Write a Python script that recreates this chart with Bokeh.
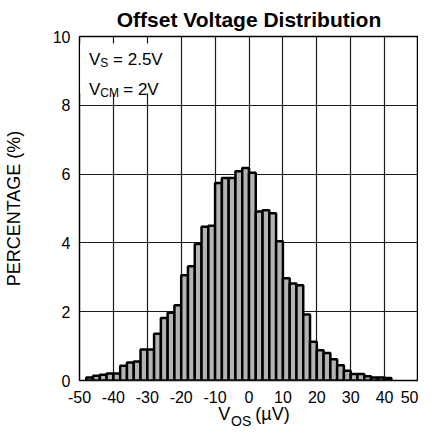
from bokeh.plotting import figure
from bokeh.models import ColumnDataSource, Label, BoxAnnotation, FixedTicker, LinearAxis
from bokeh.embed import file_html
from bokeh.resources import INLINE

# ---- data ----
bin_start = [-48, -46, -44, -42, -40, -38, -36, -34, -32, -30, -28, -26,
             -24, -22, -20, -18, -16, -14, -12, -10, -8, -6, -4, -2,
             0, 2, 4, 6, 8, 10, 12, 14, 16, 18, 20, 22, 24, 26, 28, 30,
             32, 34, 36, 38, 40]
percentage = [0.09, 0.14, 0.17, 0.20, 0.20, 0.43, 0.52, 0.55, 0.90, 0.90, 1.36, 1.82,
              1.97, 2.19, 3.06, 3.32, 3.97, 4.47, 4.50, 5.74, 5.89, 5.89, 6.08, 6.18,
              6.04, 4.91, 4.95, 4.86, 4.05, 2.97, 2.82, 2.77, 1.92, 1.13, 0.88, 0.80,
              0.62, 0.44, 0.28, 0.19, 0.19, 0.12, 0.09, 0.09, 0.07]
bin_width = 2
x_ticks = [-50, -40, -30, -20, -10, 0, 10, 20, 30, 40, 50]
x_tick_labels = ["-50", "-40", "-30", "-20", "-10", "0", "10", "20", "30", "40", "50"]
y_ticks = [0, 2, 4, 6, 8, 10]

FONT = "Liberation Sans"
NB = "\u00a0"

src = ColumnDataSource(dict(
    left=bin_start,
    right=[s + bin_width for s in bin_start],
    top=percentage,
))

p = figure(width=418, height=431, x_range=(-50, 50), y_range=(0, 10),
           output_backend="svg", toolbar_location=None,
           min_border_left=73, min_border_right=0, min_border_top=30,
           min_border_bottom=50, title="Offset Voltage Distribution")

p.title.text_font = FONT
p.title.text_font_size = "21px"
p.title.text_font_style = "bold"
p.title.align = "center"
p.title.text_color = "black"
p.title.standoff = 11

p.background_fill_color = "white"
p.border_fill_color = "white"
p.outline_line_color = "black"
p.outline_line_width = 1.5
p.outline_line_alpha = 1.0

p.xaxis.ticker = FixedTicker(ticks=x_ticks)
p.xaxis.major_label_overrides = {t: s for t, s in zip(x_ticks, x_tick_labels)}
p.yaxis.ticker = FixedTicker(ticks=y_ticks)
p.xgrid.ticker = FixedTicker(ticks=x_ticks)
p.ygrid.ticker = FixedTicker(ticks=y_ticks)
for g in (p.xgrid, p.ygrid):
    g.grid_line_color = "#1a1a1a"
    g.grid_line_width = 1.2
    g.grid_line_alpha = 1.0

for ax in (p.xaxis, p.yaxis):
    ax.axis_line_color = None
    ax.major_tick_in = 0
    ax.major_tick_out = 0
    ax.minor_tick_line_color = None
    ax.major_label_text_font = FONT
    ax.major_label_text_font_size = "16px"
    ax.major_label_text_color = "black"
    ax.axis_label_text_font = FONT
    ax.axis_label_text_font_style = "normal"
    ax.axis_label_text_color = "black"

p.xaxis.major_label_standoff = 10
p.yaxis.major_label_standoff = 9

p.yaxis.axis_label = "PERCENTAGE (%)"
p.yaxis.axis_label_text_font_size = "18px"
p.yaxis.axis_label_standoff = 26

# x axis title "V_OS (µV)": main part on the axis, subscript on a label-only axis
p.xaxis.axis_label = NB * 2 + "V" + NB * 5 + "(\u00b5V)"
p.xaxis.axis_label_text_font_size = "18px"
p.xaxis.axis_label_standoff = -2

sub_axis = LinearAxis(ticker=FixedTicker(ticks=[]),
                      axis_line_color=None, major_tick_line_color=None,
                      minor_tick_line_color=None, major_tick_in=0, major_tick_out=0,
                      major_label_text_font_size="0px", major_label_standoff=0,
                      axis_label="OS" + NB * 4, axis_label_text_font=FONT,
                      axis_label_text_font_size="14px",
                      axis_label_text_font_style="normal",
                      axis_label_text_color="black",
                      axis_label_standoff=-14)
p.add_layout(sub_axis, "below")

p.quad(left="left", right="right", top="top", bottom=0, source=src,
       fill_color="#b3b3b3", line_color="black", line_width=2.5)

# white background behind the condition text
p.add_layout(BoxAnnotation(left=-49.8, right=-22, bottom=8.35, top=9.8,
                           fill_color="white", fill_alpha=1.0, line_color=None))

def lab(x, y, text, size):
    return Label(x=x, y=y, text=text,
                 text_font=FONT, text_font_size=size, text_color="black",
                 text_align="left", text_baseline="alphabetic")

# condition text
p.add_layout(lab(-47.17, 9.32, "V", "17px"))
p.add_layout(lab(-43.88, 9.23, "S", "12px"))
p.add_layout(lab(-40.1, 9.32, "= 2.5V", "17px"))
p.add_layout(lab(-47.17, 8.45, "V", "17px"))
p.add_layout(lab(-43.88, 8.36, "CM", "12px"))
p.add_layout(lab(-37.1, 8.45, "= 2V", "17px"))

open("out.html", "w").write(file_html(p, INLINE))
